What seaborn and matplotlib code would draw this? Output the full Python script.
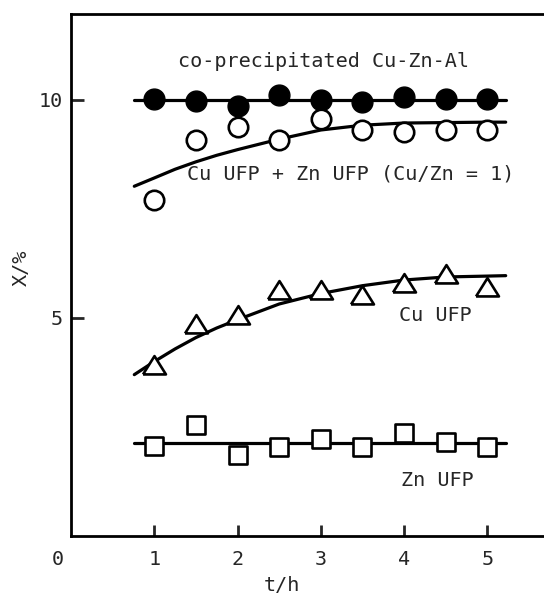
import numpy as np
import pandas as pd
import matplotlib
matplotlib.use("Agg")
import matplotlib.pyplot as plt
import seaborn as sns

# ---- data ----
t_points = [1.0, 1.5, 2.0, 2.5, 3.0, 3.5, 4.0, 4.5, 5.0]
x_coprec = [10.02, 9.98, 9.87, 10.12, 10.0, 9.95, 10.06, 10.02, 10.02]
x_mix = [7.71, 9.08, 9.37, 9.08, 9.56, 9.31, 9.27, 9.31, 9.31]
x_cu = [3.93, 4.87, 5.06, 5.63, 5.65, 5.53, 5.80, 6.01, 5.71]
x_zn = [2.06, 2.55, 1.86, 2.05, 2.22, 2.03, 2.36, 2.15, 2.03]

curve_t = [0.76, 1.0, 1.25, 1.5, 1.75, 2.0, 2.5, 3.0, 3.5, 4.0, 4.5, 5.0, 5.22]
curve_coprec = [10.0] * 13
curve_mix = [8.02, 8.21, 8.41, 8.58, 8.73, 8.86, 9.10, 9.31, 9.42, 9.47, 9.48, 9.49, 9.49]
curve_cu = [3.70, 4.00, 4.29, 4.55, 4.77, 4.96, 5.32, 5.56, 5.74, 5.87, 5.94, 5.96, 5.97]
curve_zn = [2.13] * 13

series_labels = ["co-precipitated Cu-Zn-Al", "Cu UFP + Zn UFP (Cu/Zn = 1)", "Cu UFP", "Zn UFP"]
x_ticks = [1, 2, 3, 4, 5]
y_ticks = [5, 10]

sns.set_style("white")
plt.rcParams["font.family"] = ["DejaVu Sans Mono", "DejaVu Sans"]

fig = plt.figure(figsize=(5.44, 5.96), dpi=100)
ax = fig.add_axes([71 / 544, 1 - 536 / 596, 1 - 71 / 544, (536 - 14) / 596])

pts = pd.DataFrame({
    "t": t_points * 4,
    "X": x_coprec + x_mix + x_cu + x_zn,
    "series": sum([[s] * len(t_points) for s in series_labels], []),
})
crv = pd.DataFrame({
    "t": curve_t * 4,
    "X": curve_coprec + curve_mix + curve_cu + curve_zn,
    "series": sum([[s] * len(curve_t) for s in series_labels], []),
})

# fit lines
for s in series_labels:
    sns.lineplot(data=crv[crv.series == s], x="t", y="X", color="black",
                 linewidth=2.3, sort=False, estimator=None, ax=ax, zorder=2)

tri = [(-1.0, -0.78), (1.0, -0.78), (0.0, 0.82), (-1.0, -0.78)]
styles = {
    series_labels[0]: dict(marker="o", s=15 ** 2, facecolor="black", edgecolor="black", linewidth=1.0),
    series_labels[1]: dict(marker="o", s=14 ** 2, facecolor="white", edgecolor="black", linewidth=1.9),
    series_labels[2]: dict(marker=tri, s=16.5 ** 2, facecolor="white", edgecolor="black", linewidth=1.9),
    series_labels[3]: dict(marker="s", s=12.5 ** 2, facecolor="white", edgecolor="black", linewidth=1.9),
}
for s in series_labels:
    st = styles[s]
    sns.scatterplot(data=pts[pts.series == s], x="t", y="X", ax=ax, zorder=3,
                    marker=st["marker"], s=st["s"], color=st["facecolor"],
                    edgecolor=st["edgecolor"], linewidth=st["linewidth"], legend=False)

ax.set_xlim(0, 5.68)
ax.set_ylim(0, 11.97)
ax.set_xticks(x_ticks)
ax.set_yticks(y_ticks)
ax.set_xticklabels([str(v) for v in x_ticks])
ax.set_yticklabels([str(v) for v in y_ticks])
ax.tick_params(axis="x", direction="in", length=8, width=2, labelsize=14.5, pad=10,
               bottom=True, top=False)
ax.tick_params(axis="y", direction="in", length=9, width=2, labelsize=14.5, pad=6,
               left=True, right=False)
for side in ["left", "bottom", "top"]:
    ax.spines[side].set_linewidth(2)
    ax.spines[side].set_color("black")
ax.spines["right"].set_visible(False)

ax.set_xlabel("t/h", fontsize=14.5)
ax.set_ylabel("X/%", fontsize=14.5)
ax.xaxis.set_label_coords(0.446, -0.076)
ax.yaxis.set_label_coords(-0.085, 0.513)

ax.annotate("0", xy=(-0.16, 0), xycoords=("data", "axes fraction"),
            xytext=(0, -10), textcoords="offset points", ha="center", va="top",
            fontsize=14.5, annotation_clip=False)

fs = 14.5
ax.text(3.03, 10.76, series_labels[0], ha="center", va="baseline", fontsize=fs)
ax.text(3.36, 8.17, series_labels[1], ha="center", va="baseline", fontsize=fs)
ax.text(4.38, 4.92, series_labels[2], ha="center", va="baseline", fontsize=fs)
ax.text(4.40, 1.15, series_labels[3], ha="center", va="baseline", fontsize=fs)

fig.savefig("out.png", dpi=100)
